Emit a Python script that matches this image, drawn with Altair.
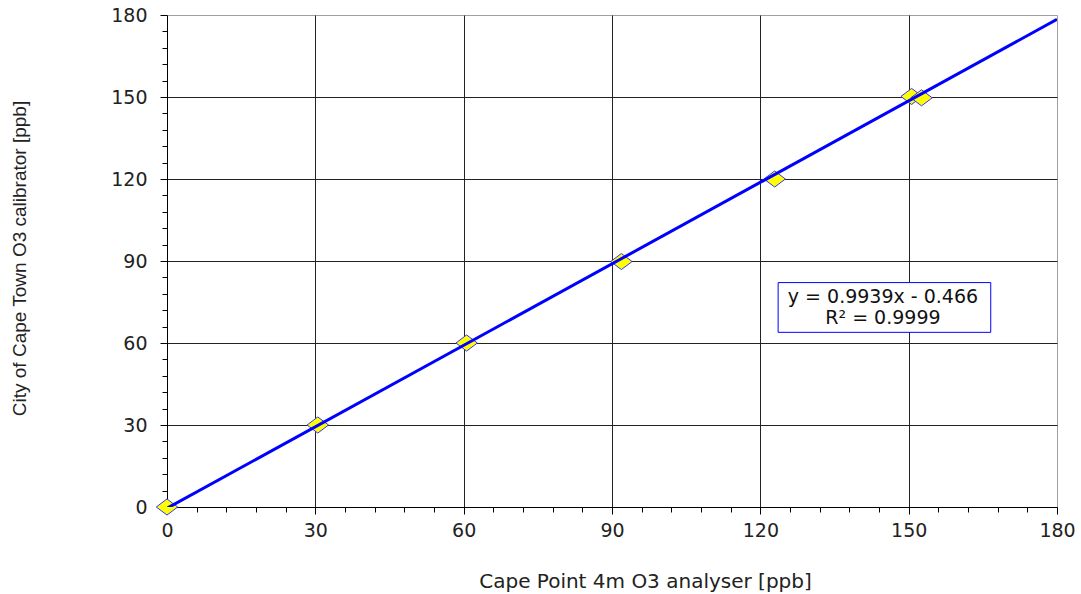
import altair as alt
import pandas as pd

# data
analyser_x = [0.0, 30.5, 60.6, 91.9, 122.9, 150.6, 152.6]
calibrator_y = [0.0, 30.0, 60.0, 89.8, 120.0, 150.2, 149.7]
fit_x = [0.0, 180.0]
fit_y = [-0.466, 178.4]
eq_lines = ["y = 0.9939x - 0.466", "R² = 0.9999"]
tick_values = list(range(0, 181, 6))

pts = pd.DataFrame({"x": analyser_x, "y": calibrator_y})
fit = pd.DataFrame({"x": fit_x, "y": fit_y})
box = pd.DataFrame({"x": [123.6], "x2": [166.6], "y": [82.1], "y2": [63.9]})
label = pd.DataFrame({"x": [144.8], "y": [74.6], "t": [eq_lines]})

major = "datum.value % 30 === 0"
grid_test = "datum.value % 30 === 0 && datum.value > 0 && datum.value < 180"

common = dict(
    values=tick_values,
    labelExpr=f"{major} ? datum.label : ''",
    labelOverlap=False,
    labelFlush=False,
    labelFont="DejaVu Sans",
    labelFontSize=19,
    labelColor="#222222",
    tickSize={"condition": {"test": major, "value": 7}, "value": 5},
    tickColor="#000000",
    tickWidth=1,
    domainColor="#000000",
    domainWidth=1,
    grid=True,
    gridColor="#222222",
    gridWidth=1,
    gridOpacity={"condition": {"test": grid_test, "value": 1}, "value": 0},
    titleColor="#222222",
    titleFontWeight="normal",
    zindex=0,
)

x_axis = alt.Axis(
    title="Cape Point 4m O3 analyser [ppb]",
    titleFont="DejaVu Sans",
    titleFontSize=20,
    titleX=478,
    titleY=80,
    titleBaseline="alphabetic",
    titleAlign="center",
    labelPadding=7,
    **common,
)
y_axis = alt.Axis(
    title="City of Cape Town O3 calibrator [ppb]",
    titleFont="Liberation Sans",
    titleFontSize=19,
    titleAngle=270,
    titleX=-142,
    titleY=243,
    titleBaseline="alphabetic",
    titleAlign="center",
    labelPadding=13,
    **common,
)

xs = alt.Scale(domain=[0, 180], nice=False, zero=False)
ys = alt.Scale(domain=[0, 180], nice=False, zero=False)

X = alt.X("x:Q", scale=xs, axis=x_axis)
Y = alt.Y("y:Q", scale=ys, axis=y_axis)

points = alt.Chart(pts).mark_point(
    shape="M-1,0L0,-0.75L1,0L0,0.75Z",
    size=460,
    filled=True,
    fill="#ffff00",
    stroke="#3333ff",
    strokeWidth=1,
    opacity=1,
).encode(x=X, y=Y)

line = alt.Chart(fit).mark_line(color="#0000ff", strokeWidth=3, clip=True).encode(x=X, y=Y)

rect = alt.Chart(box).mark_rect(fill="white", stroke="#0000ff", strokeWidth=1).encode(
    x=X, x2="x2:Q", y=Y, y2="y2:Q"
)

text = alt.Chart(label).mark_text(
    font="DejaVu Sans",
    fontSize=19,
    baseline="alphabetic",
    align="center",
    lineHeight=21,
    color="#111111",
).encode(x=X, y=Y, text="t")

chart = alt.layer(points, line, rect, text).properties(
    width=890,
    height=492,
    padding={"left": 167, "top": 15, "right": 24, "bottom": 87},
    autosize=alt.AutoSizeParams(type="none"),
    background="white",
).configure_view(stroke="#a0a0a0", strokeWidth=1)

chart.save("out.html", embed_options={"renderer": "svg", "actions": False})
